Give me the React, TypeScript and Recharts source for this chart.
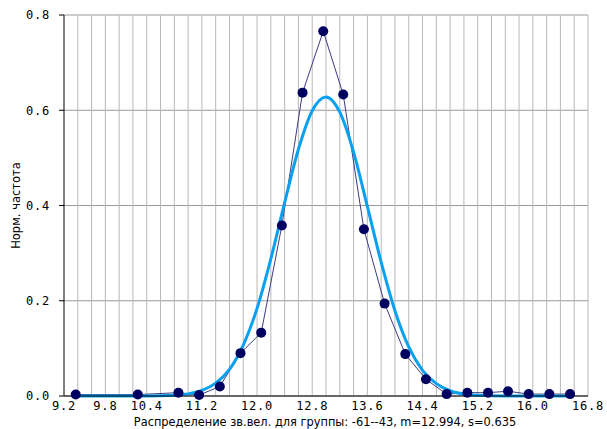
import React from "react";
import {CartesianGrid, ComposedChart, Label, Line, ReferenceLine, XAxis, YAxis} from "recharts";

// observed normalized frequency per bin
const binX = [9.37, 10.27, 10.86, 11.16, 11.46, 11.76, 12.06, 12.36, 12.66, 12.96, 13.25, 13.55, 13.85, 14.15, 14.45, 14.75, 15.05, 15.35, 15.64, 15.94, 16.24, 16.54];
const binY = [0.003, 0.003, 0.007, 0.002, 0.02, 0.09, 0.133, 0.358, 0.637, 0.766, 0.633, 0.35, 0.194, 0.088, 0.035, 0.004, 0.007, 0.007, 0.01, 0.004, 0.004, 0.004];

// fitted normal curve
const fitX = [9.37, 10.0, 10.4, 10.8, 11.0, 11.2, 11.4, 11.6, 11.8, 12.0, 12.2, 12.4, 12.6, 12.8, 13.0, 13.2, 13.4, 13.6, 13.8, 14.0, 14.2, 14.4, 14.6, 14.8, 15.0, 15.2, 15.6, 16.0, 16.54];
const fitY = [0, 0, 0.0001, 0.0016, 0.0045, 0.0116, 0.027, 0.056, 0.107, 0.184, 0.288, 0.406, 0.518, 0.599, 0.628, 0.596, 0.512, 0.398, 0.281, 0.179, 0.103, 0.054, 0.026, 0.011, 0.004, 0.0015, 0, 0, 0];

const xTicks = [9.2, 9.8, 10.4, 11.2, 12.0, 12.8, 13.6, 14.4, 15.2, 16.0, 16.8];
const yTicks = [0, 0.2, 0.4, 0.6, 0.8];
const xGrid = [9.4, 9.6, 9.8, 10.0, 10.2, 10.4, 10.6, 10.8, 11.0, 11.2, 11.4, 11.6, 11.8, 12.0, 12.2, 12.4, 12.6, 12.8, 13.0, 13.2, 13.4, 13.6, 13.8, 14.0, 14.2, 14.4, 14.6, 14.8, 15.0, 15.2, 15.4, 15.6, 15.8, 16.0, 16.2, 16.4, 16.6, 16.8];

const bins = binX.map((x, i) => ({x, y: binY[i]}));
const fit = fitX.map((x, i) => ({x, y: fitY[i]}));

const tickFont = {fontFamily: "DejaVu Sans Mono", fontSize: 12, fill: "#000", letterSpacing: 0.8};

const yTitle = (props: any) => {
  const vb = props.viewBox;
  const cx = 16;
  const cy = vb.y + vb.height / 2;
  return (
    <text x={cx} y={cy} transform={`rotate(-90 ${cx} ${cy})`} textAnchor="middle" dominantBaseline="central"
          fontFamily="DejaVu Sans" fontSize={11.5} fill="#000">Норм. частота</text>
  );
};

const xTitle = (props: any) => {
  const vb = props.viewBox;
  return (
    <text x={325} y={vb.y + 30} textAnchor="middle" fontFamily="DejaVu Sans" fontSize={11.4} fill="#000">
      Распределение зв.вел. для группы: -61--43, m=12.994, s=0.635
    </text>
  );
};

export default function App() {
  return (
    <div style={{position: "absolute", left: 0, top: 0, background: "#fff"}}>
      <ComposedChart width={607} height={429} margin={{top: 15, right: 19, left: 0, bottom: 0}}>
        <CartesianGrid vertical={false} horizontalValues={yTicks} stroke="#999999" strokeWidth={1} />
        {xGrid.map((g) => (
          <ReferenceLine key={g} x={g} stroke="#b8b8b8" strokeWidth={1} />
        ))}
        <XAxis type="number" dataKey="x" domain={[9.2, 16.8]} ticks={xTicks} allowDataOverflow
               tickFormatter={(v: number) => v.toFixed(1)} tickLine={false} tickSize={0} height={33}
               axisLine={{stroke: "#000"}} tick={tickFont} tickMargin={5}>
          <Label content={xTitle} />
        </XAxis>
        <YAxis type="number" dataKey="y" domain={[0, 0.8]} ticks={yTicks} width={64}
               tickFormatter={(v: number) => v.toFixed(1)} tickSize={5} tickMargin={9}
               axisLine={{stroke: "#000"}} tickLine={{stroke: "#000"}} tick={tickFont}>
          <Label content={yTitle} />
        </YAxis>
        <Line data={bins} dataKey="y" type="linear" stroke="#3c3c80" strokeWidth={1}
              dot={{r: 5, fill: "#000060", stroke: "#000060", strokeWidth: 0}} isAnimationActive={false} />
        <Line data={fit} dataKey="y" type="monotone" stroke="#0aa0f0" strokeWidth={3}
              dot={false} isAnimationActive={false} />
      </ComposedChart>
    </div>
  );
}
